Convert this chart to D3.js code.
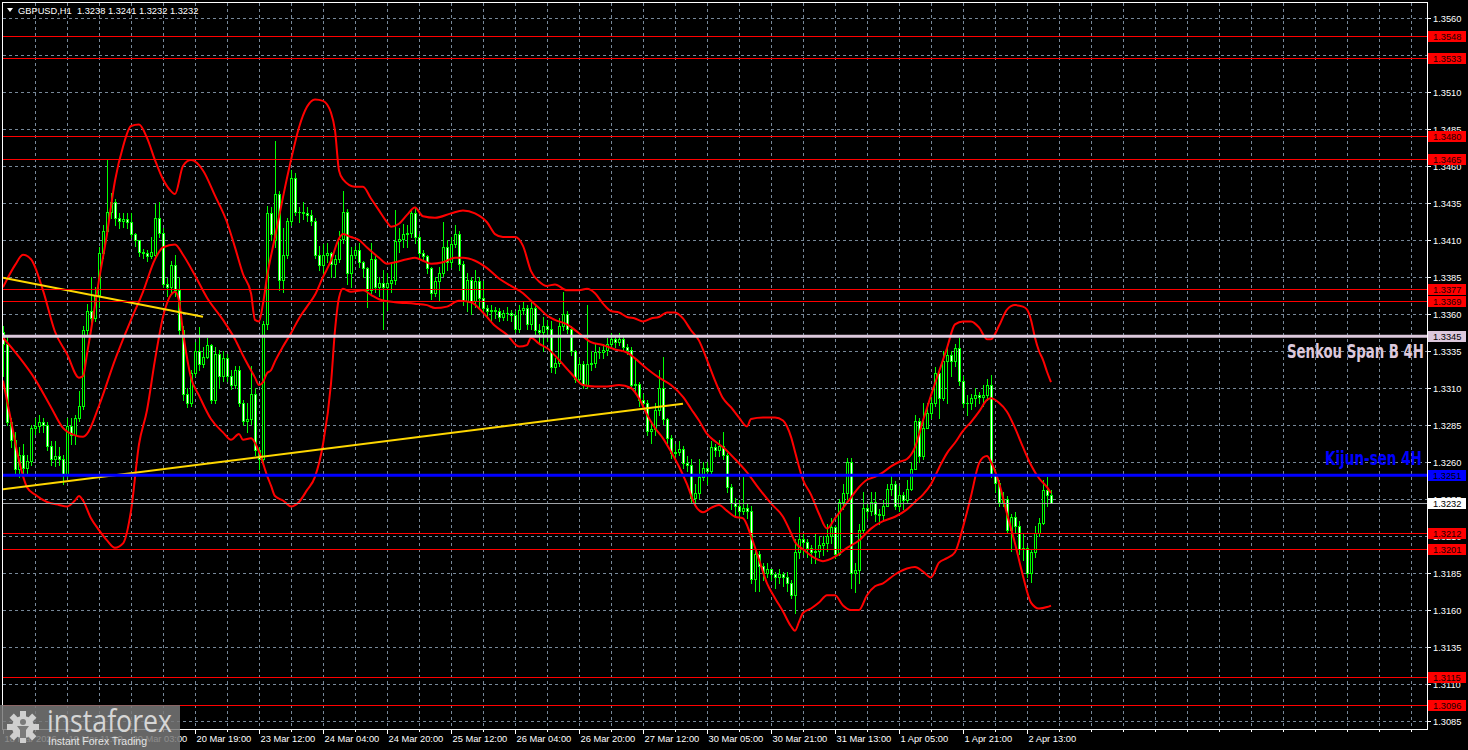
<!DOCTYPE html>
<html><head><meta charset="utf-8">
<script src="https://cdn.jsdelivr.net/npm/d3@7/dist/d3.min.js"></script>
<style>html,body{margin:0;padding:0;background:#000;overflow:hidden}svg{display:block}</style>
</head><body>
<svg id="chart" width="1468" height="750"></svg>
<script>
// ---------------- data ----------------
const titleText = "GBPUSD,H1  1.3238 1.3241 1.3232 1.3232";
const timeLabels = ["18 Mar 2026","19 Mar 11:00","20 Mar 03:00","20 Mar 19:00","23 Mar 12:00","24 Mar 04:00","24 Mar 20:00","25 Mar 12:00","26 Mar 04:00","26 Mar 20:00","27 Mar 12:00","30 Mar 05:00","30 Mar 21:00","31 Mar 13:00","1 Apr 05:00","1 Apr 21:00","2 Apr 13:00"];
const timeLabelBars = [0,16,32,48,64,80,96,112,128,144,160,176,192,208,224,240,256];
const priceTicks = [1.3560,1.3535,1.3510,1.3485,1.3460,1.3435,1.3410,1.3385,1.3360,1.3335,1.3310,1.3285,1.3260,1.3235,1.3210,1.3185,1.3160,1.3135,1.3110,1.3085];

const opens = [1.3348,1.3340,1.3287,1.3275,1.3255,1.3265,1.3256,1.3261,1.3283,1.3284,
1.3287,1.3285,1.3271,1.3262,1.3264,1.3262,1.3252,1.3284,1.3278,1.3290,
1.3298,1.3349,1.3362,1.3357,1.3373,1.3401,1.3416,1.3429,1.3436,1.3425,
1.3423,1.3424,1.3422,1.3414,1.3410,1.3402,1.3401,1.3399,1.3400,1.3425,
1.3415,1.3380,1.3378,1.3393,1.3376,1.3349,1.3306,1.3300,1.3320,1.3335,
1.3326,1.3331,1.3339,1.3302,1.3333,1.3318,1.3330,1.3318,1.3312,1.3322,
1.3300,1.3288,1.3289,1.3306,1.3268,1.3262,1.3353,1.3428,1.3410,1.3441,
1.3383,1.3400,1.3423,1.3452,1.3429,1.3429,1.3428,1.3427,1.3423,1.3400,
1.3393,1.3400,1.3401,1.3394,1.3397,1.3411,1.3429,1.3388,1.3400,1.3403,
1.3395,1.3391,1.3376,1.3397,1.3378,1.3381,1.3378,1.3381,1.3383,1.3409,
1.3411,1.3414,1.3415,1.3428,1.3412,1.3401,1.3399,1.3391,1.3374,1.3382,
1.3388,1.3405,1.3395,1.3407,1.3414,1.3394,1.3369,1.3383,1.3369,1.3382,
1.3371,1.3364,1.3362,1.3363,1.3362,1.3358,1.3361,1.3361,1.3359,1.3350,
1.3363,1.3364,1.3353,1.3364,1.3349,1.3348,1.3352,1.3350,1.3324,1.3327,
1.3352,1.3360,1.3350,1.3335,1.3316,1.3326,1.3312,1.3326,1.3327,1.3334,
1.3334,1.3336,1.3340,1.3343,1.3341,1.3343,1.3338,1.3336,1.3312,1.3313,
1.3302,1.3300,1.3281,1.3282,1.3295,1.3310,1.3289,1.3276,1.3266,1.3267,
1.3269,1.3259,1.3258,1.3236,1.3239,1.3250,1.3256,1.3254,1.3270,1.3268,
1.3271,1.3265,1.3243,1.3232,1.3230,1.3227,1.3229,1.3227,1.3181,1.3198,
1.3190,1.3185,1.3188,1.3184,1.3182,1.3184,1.3182,1.3178,1.3170,1.3199,
1.3208,1.3206,1.3202,1.3199,1.3200,1.3204,1.3205,1.3210,1.3216,1.3198,
1.3233,1.3239,1.3260,1.3185,1.3187,1.3214,1.3229,1.3227,1.3233,1.3225,
1.3224,1.3230,1.3242,1.3245,1.3230,1.3238,1.3234,1.3242,1.3255,1.3288,
1.3264,1.3283,1.3293,1.3300,1.3320,1.3303,1.3328,1.3332,1.3328,1.3337,
1.3315,1.3300,1.3300,1.3303,1.3305,1.3304,1.3305,1.3312,1.3252,1.3246,
1.3233,1.3235,1.3214,1.3223,1.3217,1.3201,1.3202,1.3185,1.3199,1.3212,
1.3219,1.3241,1.3238];
const highs = [1.3352,1.3345,1.3290,1.3280,1.3270,1.3272,1.3265,1.3285,1.3290,1.3292,
1.3290,1.3287,1.3274,1.3274,1.3270,1.3265,1.3290,1.3290,1.3292,1.3308,
1.3352,1.3367,1.3385,1.3378,1.3405,1.3420,1.3464,1.3442,1.3438,1.3428,
1.3428,1.3428,1.3428,1.3415,1.3410,1.3404,1.3403,1.3412,1.3434,1.3436,
1.3418,1.3384,1.3396,1.3400,1.3385,1.3352,1.3310,1.3322,1.3341,1.3351,
1.3338,1.3344,1.3340,1.3338,1.3336,1.3335,1.3333,1.3322,1.3325,1.3325,
1.3302,1.3300,1.3325,1.3310,1.3270,1.3355,1.3433,1.3432,1.3477,1.3443,
1.3418,1.3425,1.3457,1.3455,1.3432,1.3436,1.3432,1.3430,1.3425,1.3406,
1.3407,1.3408,1.3402,1.3400,1.3416,1.3443,1.3431,1.3405,1.3406,1.3408,
1.3396,1.3392,1.3408,1.3400,1.3385,1.3390,1.3388,1.3395,1.3430,1.3418,
1.3421,1.3420,1.3431,1.3432,1.3414,1.3403,1.3400,1.3392,1.3385,1.3392,
1.3422,1.3410,1.3412,1.3420,1.3416,1.3396,1.3388,1.3385,1.3390,1.3385,
1.3382,1.3366,1.3366,1.3365,1.3364,1.3363,1.3365,1.3363,1.3362,1.3366,
1.3368,1.3366,1.3368,1.3366,1.3353,1.3358,1.3356,1.3355,1.3330,1.3357,
1.3375,1.3362,1.3352,1.3336,1.3330,1.3328,1.3366,1.3335,1.3340,1.3338,
1.3340,1.3344,1.3347,1.3345,1.3347,1.3345,1.3340,1.3338,1.3330,1.3314,
1.3306,1.3302,1.3288,1.3300,1.3322,1.3331,1.3290,1.3278,1.3272,1.3274,
1.3271,1.3264,1.3262,1.3245,1.3262,1.3260,1.3260,1.3274,1.3272,1.3275,
1.3280,1.3266,1.3245,1.3236,1.3234,1.3250,1.3232,1.3230,1.3202,1.3200,
1.3192,1.3192,1.3188,1.3186,1.3188,1.3186,1.3186,1.3180,1.3208,1.3223,
1.3212,1.3208,1.3204,1.3212,1.3210,1.3210,1.3218,1.3222,1.3217,1.3235,
1.3245,1.3263,1.3263,1.3192,1.3218,1.3240,1.3232,1.3240,1.3240,1.3228,
1.3234,1.3245,1.3252,1.3247,1.3244,1.3240,1.3248,1.3260,1.3292,1.3290,
1.3300,1.3300,1.3304,1.3324,1.3322,1.3335,1.3338,1.3335,1.3340,1.3344,
1.3318,1.3305,1.3306,1.3310,1.3307,1.3312,1.3316,1.3319,1.3255,1.3248,
1.3240,1.3237,1.3225,1.3226,1.3220,1.3212,1.3203,1.3201,1.3217,1.3222,
1.3248,1.3250,1.3241];
const lows = [1.3318,1.3285,1.3270,1.3252,1.3250,1.3252,1.3252,1.3258,1.3279,1.3280,
1.3280,1.3268,1.3258,1.3257,1.3258,1.3245,1.3250,1.3272,1.3272,1.3288,
1.3296,1.3345,1.3350,1.3355,1.3365,1.3398,1.3415,1.3425,1.3420,1.3418,
1.3419,1.3418,1.3412,1.3406,1.3399,1.3398,1.3396,1.3398,1.3399,1.3412,
1.3378,1.3372,1.3375,1.3372,1.3345,1.3302,1.3297,1.3298,1.3318,1.3322,
1.3324,1.3330,1.3300,1.3300,1.3310,1.3315,1.3315,1.3309,1.3310,1.3298,
1.3285,1.3280,1.3286,1.3265,1.3255,1.3258,1.3350,1.3410,1.3405,1.3376,
1.3375,1.3398,1.3420,1.3427,1.3422,1.3424,1.3423,1.3420,1.3398,1.3390,
1.3385,1.3395,1.3385,1.3385,1.3395,1.3408,1.3380,1.3378,1.3398,1.3392,
1.3385,1.3365,1.3374,1.3375,1.3372,1.3350,1.3363,1.3375,1.3380,1.3402,
1.3405,1.3405,1.3412,1.3408,1.3398,1.3396,1.3388,1.3370,1.3372,1.3369,
1.3386,1.3390,1.3392,1.3405,1.3390,1.3366,1.3362,1.3360,1.3365,1.3365,
1.3362,1.3358,1.3355,1.3357,1.3355,1.3356,1.3356,1.3355,1.3348,1.3348,
1.3360,1.3350,1.3350,1.3345,1.3340,1.3335,1.3342,1.3321,1.3320,1.3325,
1.3349,1.3347,1.3332,1.3314,1.3314,1.3310,1.3310,1.3322,1.3324,1.3330,
1.3330,1.3332,1.3338,1.3338,1.3339,1.3336,1.3333,1.3310,1.3308,1.3298,
1.3296,1.3278,1.3273,1.3278,1.3292,1.3286,1.3273,1.3263,1.3263,1.3265,
1.3256,1.3254,1.3233,1.3230,1.3236,1.3248,1.3245,1.3252,1.3264,1.3264,
1.3262,1.3240,1.3228,1.3223,1.3222,1.3225,1.3222,1.3178,1.3173,1.3173,
1.3180,1.3182,1.3180,1.3175,1.3178,1.3176,1.3173,1.3168,1.3158,1.3195,
1.3198,1.3196,1.3192,1.3192,1.3196,1.3197,1.3200,1.3205,1.3195,1.3197,
1.3228,1.3235,1.3175,1.3172,1.3178,1.3212,1.3222,1.3224,1.3220,1.3218,
1.3220,1.3230,1.3238,1.3228,1.3227,1.3228,1.3232,1.3241,1.3255,1.3260,
1.3262,1.3283,1.3290,1.3298,1.3290,1.3302,1.3300,1.3318,1.3325,1.3312,
1.3297,1.3292,1.3296,1.3298,1.3300,1.3298,1.3302,1.3250,1.3240,1.3230,
1.3230,1.3212,1.3200,1.3212,1.3198,1.3194,1.3182,1.3179,1.3196,1.3210,
1.3218,1.3230,1.3232];
const closes = [1.3340,1.3287,1.3275,1.3255,1.3265,1.3256,1.3261,1.3283,1.3284,1.3287,
1.3285,1.3271,1.3262,1.3264,1.3262,1.3252,1.3284,1.3278,1.3290,1.3298,
1.3349,1.3362,1.3357,1.3373,1.3401,1.3416,1.3429,1.3436,1.3425,1.3423,
1.3424,1.3422,1.3414,1.3410,1.3402,1.3401,1.3399,1.3402,1.3425,1.3415,
1.3380,1.3378,1.3393,1.3376,1.3349,1.3306,1.3300,1.3320,1.3335,1.3326,
1.3331,1.3339,1.3302,1.3333,1.3318,1.3330,1.3318,1.3312,1.3322,1.3300,
1.3288,1.3289,1.3306,1.3268,1.3262,1.3353,1.3428,1.3414,1.3441,1.3383,
1.3400,1.3423,1.3452,1.3429,1.3429,1.3428,1.3427,1.3423,1.3400,1.3393,
1.3400,1.3401,1.3394,1.3397,1.3411,1.3429,1.3388,1.3400,1.3403,1.3395,
1.3391,1.3376,1.3397,1.3378,1.3381,1.3378,1.3381,1.3383,1.3409,1.3411,
1.3414,1.3415,1.3428,1.3412,1.3401,1.3399,1.3391,1.3374,1.3382,1.3388,
1.3405,1.3395,1.3407,1.3414,1.3394,1.3369,1.3383,1.3369,1.3382,1.3371,
1.3364,1.3362,1.3363,1.3362,1.3358,1.3361,1.3361,1.3359,1.3350,1.3363,
1.3364,1.3353,1.3364,1.3349,1.3348,1.3352,1.3350,1.3324,1.3327,1.3352,
1.3360,1.3350,1.3335,1.3316,1.3326,1.3312,1.3326,1.3327,1.3334,1.3334,
1.3336,1.3340,1.3343,1.3341,1.3343,1.3338,1.3336,1.3312,1.3313,1.3302,
1.3300,1.3281,1.3282,1.3295,1.3310,1.3289,1.3276,1.3266,1.3267,1.3269,
1.3259,1.3258,1.3236,1.3239,1.3250,1.3256,1.3254,1.3270,1.3268,1.3271,
1.3265,1.3243,1.3232,1.3230,1.3227,1.3229,1.3227,1.3181,1.3198,1.3190,
1.3185,1.3188,1.3184,1.3182,1.3184,1.3182,1.3178,1.3170,1.3199,1.3208,
1.3206,1.3202,1.3199,1.3200,1.3204,1.3205,1.3210,1.3216,1.3198,1.3233,
1.3239,1.3260,1.3185,1.3187,1.3214,1.3229,1.3227,1.3233,1.3225,1.3224,
1.3230,1.3242,1.3245,1.3230,1.3238,1.3234,1.3242,1.3255,1.3288,1.3264,
1.3283,1.3293,1.3300,1.3320,1.3303,1.3328,1.3332,1.3328,1.3337,1.3315,
1.3300,1.3300,1.3303,1.3305,1.3304,1.3305,1.3312,1.3252,1.3246,1.3233,
1.3235,1.3214,1.3223,1.3217,1.3201,1.3202,1.3185,1.3199,1.3212,1.3219,
1.3241,1.3238,1.3232];

// Bollinger band lines, [bar index, price]
const bandUpper = [[0,1.3378],[3,1.3393],[5,1.3400],[7,1.3397],[10,1.3376],[13,1.3348],[16,1.3333],[19,1.3317],[20,1.3318],[21,1.3333],[22,1.3349],[24,1.3383],[26,1.3414],[28,1.3450],[30,1.3473],[32,1.3487],[34,1.3488],[36,1.3479],[38,1.3464],[40,1.3451],[42,1.3443],[43,1.3441],[45,1.3460],[47,1.3464],[50,1.3457],[53,1.3440],[56,1.3422],[58,1.3405],[60,1.3387],[62,1.3374],[63,1.3356],[64,1.3355],[65,1.3367],[66,1.3385],[68,1.3412],[70,1.3439],[72,1.3464],[74,1.3486],[76,1.3500],[78,1.3505],[80,1.3504],[82,1.3496],[83,1.3484],[84,1.3457],[85,1.3451],[88,1.3446],[90,1.3446],[92,1.3438],[94,1.3430],[96,1.3422],[97,1.3419],[99,1.3421],[101,1.3427],[103,1.3432],[105,1.3426],[108,1.3425],[112,1.3428],[115,1.3430],[118,1.3428],[121,1.3422],[123,1.3414],[125,1.3412],[128,1.3412],[130,1.3406],[132,1.3389],[134,1.3382],[136,1.3379],[138,1.3380],[141,1.3376],[144,1.3376],[146,1.3377],[148,1.3374],[150,1.3367],[152,1.3362],[154,1.3361],[156,1.3358],[158,1.3357],[160,1.3355],[162,1.3357],[164,1.3358],[166,1.3361],[168,1.3361],[170,1.3357],[172,1.3349],[174,1.3342],[176,1.3329],[178,1.3315],[180,1.3303],[182,1.3297],[184,1.3290],[186,1.3284],[187,1.3289],[190,1.3290],[193,1.3290],[195,1.3288],[196,1.3284],[197,1.3277],[198,1.3267],[200,1.3248],[202,1.3238],[204,1.3225],[206,1.3215],[208,1.3222],[210,1.3229],[212,1.3236],[214,1.3243],[216,1.3248],[218,1.3250],[220,1.3253],[222,1.3257],[224,1.3260],[226,1.3262],[228,1.3270],[230,1.3288],[232,1.3305],[234,1.3321],[236,1.3337],[238,1.3353],[240,1.3355],[242,1.3355],[244,1.3351],[246,1.3343],[247,1.3343],[249,1.3352],[251,1.3363],[253,1.3366],[255,1.3365],[256,1.3363],[257,1.3356],[258,1.3344],[259,1.3335],[260,1.3329],[261,1.3321],[262,1.3314]];
const bandMiddle = [[0,1.3344],[4,1.3331],[8,1.3316],[12,1.3297],[15,1.3283],[18,1.3278],[20,1.3277],[21,1.3279],[24,1.3298],[28,1.3329],[32,1.3356],[35,1.3375],[38,1.3397],[40,1.3405],[43,1.3407],[45,1.3400],[48,1.3386],[51,1.3371],[55,1.3356],[58,1.3343],[60,1.3332],[63,1.3317],[64,1.3312],[65,1.3314],[66,1.3320],[67,1.3322],[68,1.3328],[70,1.3338],[72,1.3347],[74,1.3357],[76,1.3365],[78,1.3373],[80,1.3385],[82,1.3396],[84,1.3411],[85,1.3414],[87,1.3412],[89,1.3410],[91,1.3405],[94,1.3398],[96,1.3394],[98,1.3395],[101,1.3397],[103,1.3398],[105,1.3396],[107,1.3394],[110,1.3395],[113,1.3398],[115,1.3398],[118,1.3396],[121,1.3391],[124,1.3384],[127,1.3379],[130,1.3374],[132,1.3369],[134,1.3364],[136,1.3359],[138,1.3356],[141,1.3353],[144,1.3347],[147,1.3341],[150,1.3339],[153,1.3336],[156,1.3334],[158,1.3330],[161,1.3323],[164,1.3317],[167,1.3312],[170,1.3304],[172,1.3296],[174,1.3288],[176,1.3279],[178,1.3274],[180,1.3270],[183,1.3262],[186,1.3253],[189,1.3242],[192,1.3232],[195,1.3223],[197,1.3212],[198,1.3206],[200,1.3201],[203,1.3195],[205,1.3193],[208,1.3196],[211,1.3202],[214,1.3207],[217,1.3215],[220,1.3220],[223,1.3223],[226,1.3228],[228,1.3233],[230,1.3238],[232,1.3245],[234,1.3256],[236,1.3266],[238,1.3273],[240,1.3281],[242,1.3287],[244,1.3294],[246,1.3302],[247,1.3303],[249,1.3300],[251,1.3294],[253,1.3283],[255,1.3270],[257,1.3258],[259,1.3249],[261,1.3243],[262,1.3239]];
const bandLower = [[0,1.3315],[2,1.3288],[4,1.3261],[6,1.3243],[8,1.3238],[11,1.3233],[14,1.3231],[16,1.3230],[18,1.3234],[19,1.3237],[20,1.3234],[22,1.3222],[24,1.3214],[26,1.3207],[28,1.3202],[30,1.3205],[32,1.3227],[34,1.3272],[36,1.3295],[38,1.3329],[40,1.3358],[42,1.3373],[43,1.3375],[44,1.3369],[45,1.3348],[47,1.3317],[49,1.3305],[52,1.3289],[55,1.3280],[57,1.3275],[59,1.3279],[60,1.3275],[62,1.3276],[64,1.3267],[66,1.3251],[67,1.3244],[68,1.3237],[70,1.3234],[72,1.3230],[74,1.3233],[76,1.3241],[78,1.3250],[80,1.3272],[82,1.3313],[83,1.3349],[84,1.3371],[85,1.3377],[87,1.3375],[90,1.3376],[92,1.3373],[94,1.3370],[98,1.3368],[103,1.3367],[106,1.3366],[108,1.3364],[111,1.3365],[114,1.3369],[117,1.3368],[120,1.3361],[123,1.3352],[126,1.3346],[129,1.3338],[131,1.3339],[132,1.3344],[134,1.3340],[136,1.3337],[139,1.3329],[142,1.3320],[145,1.3312],[148,1.3311],[151,1.3311],[154,1.3312],[157,1.3310],[159,1.3303],[161,1.3292],[163,1.3283],[165,1.3276],[167,1.3267],[169,1.3257],[171,1.3245],[173,1.3231],[175,1.3226],[177,1.3229],[179,1.3231],[181,1.3227],[183,1.3223],[185,1.3222],[187,1.3210],[189,1.3194],[191,1.3178],[193,1.3168],[195,1.3159],[197,1.3149],[198,1.3146],[199,1.3152],[200,1.3158],[202,1.3161],[204,1.3165],[206,1.3170],[208,1.3170],[210,1.3163],[212,1.3160],[214,1.3160],[216,1.3170],[218,1.3176],[220,1.3178],[223,1.3184],[226,1.3188],[228,1.3189],[230,1.3186],[232,1.3182],[234,1.3192],[236,1.3195],[238,1.3199],[240,1.3216],[242,1.3237],[244,1.3259],[245,1.3263],[246,1.3264],[247,1.3260],[249,1.3246],[251,1.3225],[253,1.3205],[255,1.3183],[257,1.3165],[259,1.3161],[261,1.3162],[262,1.3163]];

// trend lines [bar, price]
const trendLines = [[[0,1.33845],[50,1.33582]], [[0,1.32416],[170,1.32994]]];
// horizontal levels
const redLevels = [1.3548,1.3533,1.3480,1.3465,1.3377,1.3369,1.3212,1.3201,1.3115,1.3096];
const senkouLevel = 1.3345;
const kijunLevel = 1.3251;
const bidLevel = 1.3232;
const senkouLabel = "Senkou Span B 4H";
const kijunLabel = "Kijun-sen 4H";

// ---------------- drawing ----------------
const svg = d3.select("#chart");
const W = 1468, H = 750;
const PL = 2.5, PR = 1427.5, PT = 2.5, PB = 729.5;
const x = d3.scaleLinear().domain([0, 356]).range([3, 1427]);
const y = d3.scaleLinear().domain([1.3085, 1.3560]).range([721, 18]);
const FONT = "'Liberation Sans', Arial, sans-serif";
const py = v => Math.round(y(v));

svg.append("rect").attr("width", W).attr("height", H).attr("fill", "#000");

svg.append("clipPath").attr("id", "plotclip").append("rect")
  .attr("x", 3).attr("y", 3).attr("width", 1424).attr("height", 726);

const grid = svg.append("g");
d3.range(8, 356, 8).forEach(b => {
  const gx = Math.round(x(b)) + 0.5;
  if (gx > 1426) return;
  grid.append("line").attr("x1", gx).attr("x2", gx).attr("y1", 3).attr("y2", 729)
    .attr("stroke", "#778899").attr("stroke-width", 1).attr("stroke-dasharray", "3,3");
});
priceTicks.forEach(p => {
  const gy = py(p) + 0.5;
  grid.append("line").attr("x1", 3).attr("x2", 1427).attr("y1", gy).attr("y2", gy)
    .attr("stroke", "#778899").attr("stroke-width", 1).attr("stroke-dasharray", "3,3");
});

const plot = svg.append("g").attr("clip-path", "url(#plotclip)");

// candles
const candles = plot.append("g");
closes.forEach((c, i) => {
  const o = opens[i], h = highs[i], l = lows[i];
  const cx = Math.round(x(i));
  const yh = py(h), yl = py(l);
  candles.append("rect").attr("x", cx).attr("y", yh).attr("width", 1).attr("height", Math.max(1, yl - yh + 1)).attr("fill", "#00ff00");
  const top = py(Math.max(o, c)), bot = py(Math.min(o, c));
  candles.append("rect").attr("x", cx - 1).attr("y", top).attr("width", 3).attr("height", Math.max(1, bot - top + 1)).attr("fill", "#00ff00");
  if (bot - top >= 2) {
    candles.append("rect").attr("x", cx).attr("y", top + 1).attr("width", 1).attr("height", bot - top - 1)
      .attr("fill", c < o ? "#ffffff" : "#000000");
  }
});

// bands
const bandLine = d3.line().x(d => x(d[0])).y(d => y(d[1])).curve(d3.curveMonotoneX);
[bandUpper, bandMiddle, bandLower].forEach(b => {
  plot.append("path").attr("d", bandLine(b)).attr("fill", "none").attr("stroke", "#ff0000").attr("stroke-width", 2);
});

// trend lines
trendLines.forEach(t => {
  plot.append("line").attr("x1", x(t[0][0])).attr("y1", y(t[0][1])).attr("x2", x(t[1][0])).attr("y2", y(t[1][1]))
    .attr("stroke", "#ffd700").attr("stroke-width", 2);
});

// horizontal levels
redLevels.forEach(v => {
  plot.append("line").attr("x1", 3).attr("x2", 1427).attr("y1", py(v) + 0.5).attr("y2", py(v) + 0.5)
    .attr("stroke", "#ff0000").attr("stroke-width", 1);
});
plot.append("line").attr("x1", 3).attr("x2", 1427).attr("y1", py(bidLevel) + 0.5).attr("y2", py(bidLevel) + 0.5)
  .attr("stroke", "#a0a4a8").attr("stroke-width", 1);
plot.append("line").attr("x1", 3).attr("x2", 1427).attr("y1", y(senkouLevel)).attr("y2", y(senkouLevel))
  .attr("stroke", "#dcc8dc").attr("stroke-width", 3);
plot.append("line").attr("x1", 3).attr("x2", 1427).attr("y1", y(kijunLevel)).attr("y2", y(kijunLevel))
  .attr("stroke", "#0000ff").attr("stroke-width", 3);

// annotation texts, condensed to the width they take in the picture
function condensedLabel(txt, x0, base, width, color) {
  const t = svg.append("text").attr("x", 0).attr("y", 0).text(txt)
    .attr("font-family", "'DejaVu Sans Condensed','DejaVu Sans',sans-serif").attr("font-weight", "bold")
    .attr("font-size", 20).attr("fill", color);
  const w = t.node().getComputedTextLength() || width;
  t.attr("transform", `translate(${x0},${base}) scale(${width / w},1)`);
}
condensedLabel(senkouLabel, 1287, 358, 137, "#dcc8dc");
condensedLabel(kijunLabel, 1325, 465, 97, "#0000ff");

// frame
svg.append("rect").attr("x", PL).attr("y", PT).attr("width", PR - PL).attr("height", PB - PT)
  .attr("fill", "none").attr("stroke", "#ffffff").attr("stroke-width", 1);

// right axis
const axR = svg.append("g");
priceTicks.forEach(p => {
  const ty = py(p) + 0.5;
  axR.append("line").attr("x1", 1428).attr("x2", 1431).attr("y1", ty).attr("y2", ty).attr("stroke", "#fff");
  axR.append("text").attr("x", 1433).attr("y", ty + 3.5).text(p.toFixed(4))
    .attr("font-family", FONT).attr("font-size", 9.3).attr("fill", "#fff");
});
function levelBox(v, bg, fg) {
  const cy = py(v) + 0.5;
  axR.append("rect").attr("x", 1428).attr("y", cy - 5.5).attr("width", 38).attr("height", 11).attr("fill", bg);
  axR.append("text").attr("x", 1433).attr("y", cy + 3.5).text(v.toFixed(4))
    .attr("font-family", FONT).attr("font-size", 9.3).attr("fill", fg);
}
redLevels.forEach(v => levelBox(v, "#ff0000", "#200000"));
levelBox(senkouLevel, "#dcc8dc", "#000");
levelBox(kijunLevel, "#0000ff", "#000");
levelBox(bidLevel, "#ffffff", "#000");

// bottom axis
const axB = svg.append("g");
d3.range(8, 356, 8).forEach(b => {
  const tx = Math.round(x(b)) + 0.5;
  if (tx > 1426) return;
  axB.append("line").attr("x1", tx).attr("x2", tx).attr("y1", 730).attr("y2", 732).attr("stroke", "#fff");
});
timeLabels.forEach((t, k) => {
  const tx = Math.round(x(timeLabelBars[k])) + 0.5;
  axB.append("line").attr("x1", tx).attr("x2", tx).attr("y1", 730).attr("y2", 734).attr("stroke", "#fff");
  axB.append("text").attr("x", tx + 1).attr("y", 742).text(t)
    .attr("font-family", FONT).attr("font-size", 9.3).attr("fill", "#fff");
});

// title
svg.append("path").attr("d", "M7,8 L13,8 L10,12 Z").attr("fill", "#fff");
svg.append("text").attr("x", 18).attr("y", 13.5).text(titleText)
  .style("white-space", "pre")
  .attr("font-family", FONT).attr("font-size", 9.3).attr("fill", "#fff");

// logo
const logo = svg.append("g");
logo.append("rect").attr("x", 0).attr("y", 705).attr("width", 180).attr("height", 45).attr("fill", "rgba(120,120,120,0.85)");
const gear = logo.append("g").attr("transform", "translate(23,727)");
d3.range(8).forEach(k => {
  gear.append("rect").attr("x", -3).attr("y", -16).attr("width", 6).attr("height", 8)
    .attr("fill", "#cfcfcf").attr("transform", `rotate(${k * 45})`);
});
gear.append("circle").attr("r", 11).attr("fill", "#cfcfcf");
gear.append("circle").attr("r", 3).attr("cy", -5).attr("fill", "#7a7a7a");
gear.append("path").attr("d", "M-6,-1 L6,-1 L3,3 L3,11 L-3,11 L-3,3 Z").attr("fill", "#7a7a7a");
logo.append("text").attr("x", 47).attr("y", 732).text("instaforex")
  .attr("font-family", "'Open Sans','Liberation Sans',sans-serif").attr("font-size", 31).attr("fill", "#d6d6d6")
  .attr("textLength", 125).attr("lengthAdjust", "spacingAndGlyphs");
logo.append("text").attr("x", 48).attr("y", 745).text("Instant Forex Trading")
  .attr("font-family", FONT).attr("font-size", 11).attr("fill", "#e4e4e4")
  .attr("textLength", 99).attr("lengthAdjust", "spacingAndGlyphs");
</script>
</body></html>
